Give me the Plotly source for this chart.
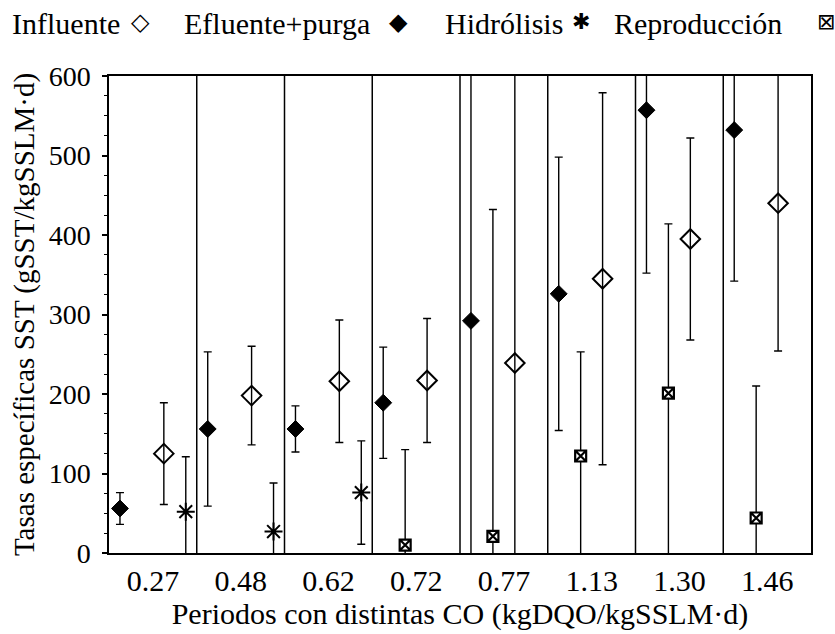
import plotly.graph_objects as go

periods = ["0.27", "0.48", "0.62", "0.72", "0.77", "1.13", "1.30", "1.46"]

influente = [125, 198, 216, 217, 239, 345, 395, 440]
influente_sd = [64, 62, 77, 78, 370, 234, 127, 186]

efluente = [56, 156, 156, 189, 292, 326, 557, 532]
efluente_sd = [20, 97, 29, 70, 320, 172, 205, 190]

hidrolisis = [52, 27, 76, None, None, None, None, None]
hidrolisis_sd = [69, 61, 65, 0, 0, 0, 0, 0]

reproduccion = [None, None, None, 10, 21, 122, 201, 44]
reproduccion_sd = [0, 0, 0, 120, 411, 131, 213, 166]

# slot of each series inside a period (fraction of period width)
slots = {"efl": 0.125, "rep": 0.375, "inf": 0.625, "hid": 0.875}

SERIF = "Liberation Serif, Times New Roman, serif"
SYM = "DejaVu Sans, sans-serif"

def xs(slot):
    return [i + slots[slot] for i in range(len(periods))]

def err(sd):
    return dict(type="data", array=sd, visible=True, color="black",
                thickness=1.4, width=4)

fig = go.Figure()
fig.add_trace(go.Scatter(
    x=xs("efl"), y=efluente, mode="markers", name="Efluente+purga",
    error_y=err(efluente_sd),
    marker=dict(symbol="diamond", size=13, color="black",
                line=dict(color="black", width=1)),
    cliponaxis=True))
fig.add_trace(go.Scatter(
    x=xs("rep"), y=reproduccion, mode="markers", name="Reproducción",
    error_y=err(reproduccion_sd),
    marker=dict(symbol="square-x", size=11, color="white",
                line=dict(color="black", width=2.2)),
    cliponaxis=True))
fig.add_trace(go.Scatter(
    x=xs("inf"), y=influente, mode="markers", name="Influente",
    error_y=err(influente_sd),
    marker=dict(symbol="diamond-open", size=15, color="black",
                line=dict(color="black", width=2)),
    cliponaxis=True))
fig.add_trace(go.Scatter(
    x=xs("hid"), y=hidrolisis, mode="markers", name="Hidrólisis",
    error_y=err(hidrolisis_sd),
    marker=dict(symbol="asterisk-open", size=15, color="black",
                line=dict(color="black", width=2)),
    cliponaxis=True))

# period separators
for b in range(1, len(periods)):
    fig.add_shape(type="line", xref="x", yref="paper", x0=b, x1=b, y0=0, y1=1,
                  line=dict(color="black", width=1.5), layer="above")

# legend row (text followed by symbol)
W, H, L, T = 702.0, 483.0, 109.0, 76.0
def px(x):
    return (x - L) / W
def py(y):
    return 1 + (T - y) / H

legend_items = [
    ("Influente", 10, "◇", 140, 24),
    ("Efluente+purga", 182, "◆", 398, 24),
    ("Hidrólisis", 443, "✱", 581, 22),
    ("Reproducción", 612, "⊠", 825.5, 22),
]
for label, lx, sym, sx, ss in legend_items:
    fig.add_annotation(text=label, xref="paper", yref="paper", x=px(lx), y=py(23),
                       xanchor="left", yanchor="middle", showarrow=False,
                       font=dict(family=SERIF, size=30, color="black"))
    fig.add_annotation(text=sym, xref="paper", yref="paper", x=px(sx), y=py(21),
                       xanchor="center", yanchor="middle", showarrow=False,
                       font=dict(family=SYM, size=ss, color="black"))

fig.update_layout(
    width=835, height=634,
    margin=dict(l=109, r=24, t=76, b=75),
    paper_bgcolor="white", plot_bgcolor="white",
    showlegend=False,
    font=dict(family=SERIF, color="black"),
    xaxis=dict(
        range=[0, len(periods)],
        tickvals=[i + 0.5 for i in range(len(periods))],
        ticktext=periods,
        ticks="", showgrid=False, zeroline=False,
        showline=True, linecolor="black", linewidth=1.5, mirror=True,
        tickfont=dict(family=SERIF, size=30),
        title=dict(text="Periodos con distintas CO (kgDQO/kgSSLM·d)",
                   font=dict(family=SERIF, size=30), standoff=4),
    ),
    yaxis=dict(
        range=[0, 600], dtick=100,
        ticks="outside", ticklen=5, tickwidth=1.5, tickcolor="black",
        minor=dict(dtick=25, ticks="outside", ticklen=3, tickwidth=1.2,
                   tickcolor="black"),
        showgrid=False, zeroline=False,
        showline=True, linecolor="black", linewidth=1.5, mirror=True,
        tickfont=dict(family=SERIF, size=28),
        ticklabelstandoff=6,
        title=dict(text="Tasas específicas SST (gSST/kgSSLM·d)",
                   font=dict(family=SERIF, size=29), standoff=6),
    ),
)

fig.write_html("out.html")
